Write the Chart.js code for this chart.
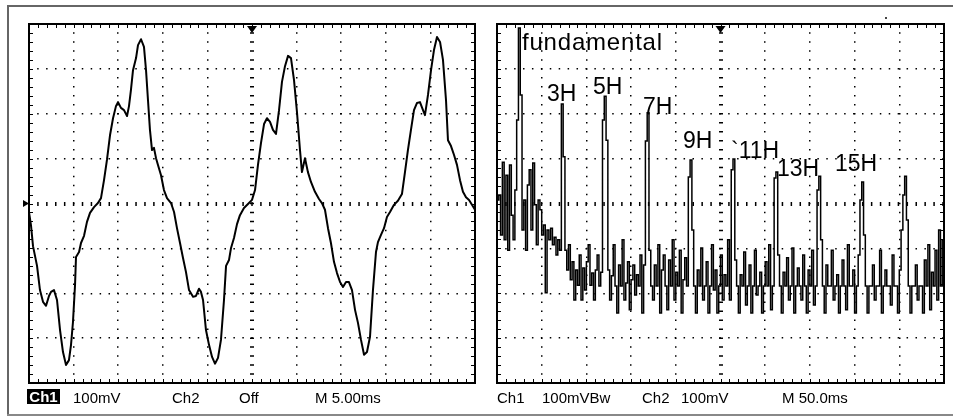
<!DOCTYPE html>
<html>
<head>
<meta charset="utf-8">
<script src="https://cdn.jsdelivr.net/npm/chart.js@4/dist/chart.umd.min.js"></script>
<style>
  html, body { margin: 0; padding: 0; background: #fff; }
  #wrap { position: relative; width: 953px; height: 417px; overflow: hidden; background: #fff; }
  canvas { position: absolute; top: 0; }
  #cl { left: 0; }
  #cr { left: 486px; }
  .ln { position: absolute; background: #666; }
  .t { position: absolute; font-family: "Liberation Sans", Arial, sans-serif; color: #000; white-space: nowrap; line-height: 1; }
  .st { font-size: 15px; top: 390px; }
  .an { font-size: 23px; }
  #ch1box { position: absolute; left: 27px; top: 389px; width: 33px; height: 15px; background: #000; color: #fff; font-family: "Liberation Sans", Arial, sans-serif; font-size: 15px; line-height: 15px; text-align: center; font-weight: bold; }
</style>
</head>
<body>
<div id="wrap">
  <canvas id="cl" width="486" height="417"></canvas>
  <canvas id="cr" width="467" height="417"></canvas>
  <div class="ln" style="left:7px;top:5px;width:946px;height:2px;"></div>
  <div class="ln" style="left:7px;top:5px;width:2px;height:411px;"></div>
  <div class="ln" style="left:7px;top:414px;width:946px;height:2px;background:#888;"></div>
  <div class="ln" style="left:885px;top:17px;width:2px;height:2px;background:#444;"></div>

  <div id="ch1box">Ch1</div>
  <div class="t st" style="left:73px;">100mV</div>
  <div class="t st" style="left:172px;">Ch2</div>
  <div class="t st" style="left:239px;">Off</div>
  <div class="t st" style="left:315px;">M 5.00ms</div>

  <div class="t st" style="left:497px;">Ch1</div>
  <div class="t st" style="left:542px;">100mVBw</div>
  <div class="t st" style="left:642px;">Ch2</div>
  <div class="t st" style="left:681px;">100mV</div>
  <div class="t st" style="left:782px;">M 50.0ms</div>

  <div class="t an" style="left:522px;top:30px;font-size:24px;letter-spacing:0.8px;">fundamental</div>
  <div class="t an" style="left:547px;top:82px;">3H</div>
  <div class="t an" style="left:593px;top:75px;">5H</div>
  <div class="t an" style="left:643px;top:95px;">7H</div>
  <div class="t an" style="left:683px;top:129px;">9H</div>
  <div class="t an" style="left:731px;top:139px;">`11H</div>
  <div class="t an" style="left:777px;top:157px;">13H</div>
  <div class="t an" style="left:835px;top:152px;">15H</div>
</div>
<script>
// ---------- Left panel: time-domain waveform (Ch1, 100 mV/div, 5 ms/div) ----------
const waveTimeMs = [0,0.22,0.45,0.90,1.23,1.57,1.91,2.24,2.47,2.80,
  3.14,3.48,3.81,4.15,4.48,4.71,4.93,5.16,5.27,5.61,
  5.83,6.17,6.50,6.84,7.29,7.73,8.07,8.41,8.74,9.08,
  9.42,9.75,9.98,10.31,10.65,10.99,11.21,11.43,11.66,12.00,
  12.22,12.56,12.89,13.12,13.34,13.56,13.79,14.01,14.24,14.46,
  14.80,15.13,15.47,15.92,16.26,16.59,16.93,17.26,17.60,17.94,
  18.39,18.72,19.06,19.28,19.51,19.84,20.18,20.52,20.85,21.19,
  21.52,21.86,22.09,22.42,22.65,22.98,23.32,23.65,24.10,24.55,
  25.00,25.34,25.67,26.01,26.35,26.68,27.02,27.35,27.69,28.03,
  28.36,28.70,29.04,29.37,29.71,30.04,30.38,30.60,30.94,31.27,
  31.61,32.06,32.51,32.84,33.18,33.52,33.85,34.19,34.53,34.87,
  35.20,35.54,35.87,36.21,36.55,36.88,37.22,37.56,37.89,38.23,
  38.56,38.90,39.12,39.46,39.80,40.13,40.47,40.92,41.36,41.81,
  42.15,42.48,42.82,43.16,43.50,43.83,44.17,44.39,44.73,45.07,
  45.40,45.74,46.08,46.41,46.75,46.97,47.31,47.65,47.98,48.32,
  48.65,48.99,49.33,49.66,50.0];
const waveMv = [-19,-48,-95,-139,-193,-219,-228,-206,-197,-193,
  -215,-282,-331,-360,-349,-315,-264,-182,-119,-108,
  -88,-72,-41,-21,-8,1,12,52,97,152,
  190,217,226,213,208,195,217,253,297,324,
  353,366,349,297,230,164,119,124,101,86,
  63,30,12,1,-19,-55,-88,-121,-153,-193,
  -208,-206,-190,-197,-215,-282,-315,-342,-357,-344,
  -304,-215,-139,-126,-99,-77,-46,-26,-10,-1,
  8,30,86,135,177,190,182,164,155,208,
  271,306,329,324,275,204,119,70,101,70,
  48,26,10,1,-14,-55,-88,-130,-155,-175,
  -186,-175,-175,-193,-237,-266,-304,-337,-331,-297,
  -193,-108,-86,-70,-55,-30,-19,-3,6,21,
  70,119,164,208,224,226,208,197,242,297,
  342,371,360,320,230,141,128,108,86,52,
  26,14,8,-3,-14];

// ---------- Right panel: FFT magnitude (dB, 10 dB/div), 5 Hz bins, 0..1250 Hz ----------
const specBinHz = 5;
const specDb = [0.8,1.9,-7.0,9.2,-8.1,6.3,-10.4,8.6,-2.6,-8.1,
  3.0,18.6,39.1,24.2,-5.9,0.8,-10.4,4.1,7.5,-5.9,
  9.0,-0.3,-9.2,0.8,-1.4,-7.0,-4.8,-19.9,-5.9,-8.1,
  -5.5,-9.2,-7.5,-11.5,-8.1,-10.4,22.2,10.4,-10.4,-14.8,
  -9.2,-17.0,-13.0,-21.5,-14.8,-18.2,-11.5,-21.5,-14.4,-19.3,
  -13.0,-9.2,-18.2,-15.5,-21.5,-14.8,-11.5,-18.4,-15.3,18.6,
  23.9,14.1,-14.8,-21.5,-16.1,-9.2,-18.4,-24.4,-13.7,-18.4,
  -8.1,-21.5,-17.7,-13.0,-23.7,-17.0,-13.7,-20.4,-15.9,-18.4,
  -11.5,-24.4,-13.7,13.9,20.2,-10.4,-18.4,-21.5,-13.7,-18.4,
  -9.2,-24.4,-14.8,-11.5,-18.4,-23.7,-12.6,-18.4,-8.1,-21.5,
  -15.3,-18.4,-10.4,-24.4,-17.0,-12.1,-18.4,5.9,9.7,-5.9,
  -18.4,-24.4,-14.8,-18.4,-9.9,-21.5,-18.4,-13.0,-24.4,-18.4,
  -9.2,-19.3,-14.8,-24.4,-18.4,-11.5,-21.5,-15.9,-18.4,-8.1,
  -21.5,7.5,9.9,-12.6,-18.4,-24.4,-15.9,-18.4,-10.8,-22.6,
  -18.4,-13.7,-24.4,-18.4,-10.4,-20.4,-18.4,-15.3,-24.4,-18.4,
  -13.0,-18.4,-9.2,-23.7,-18.4,5.7,7.0,-11.5,-18.4,-24.4,
  -15.3,-18.4,-12.1,-21.5,-18.4,-9.9,-24.4,-18.4,-14.4,-18.4,
  -21.5,-11.5,-18.4,-24.4,-14.8,-18.4,-10.4,-22.6,-18.4,3.0,
  6.1,-8.1,-18.4,-24.4,-13.7,-18.4,-18.4,-10.4,-21.5,-18.4,
  -15.9,-24.4,-18.4,-12.6,-18.4,-23.7,-9.2,-18.4,-18.4,-14.8,
  -24.4,-18.4,-11.5,0.8,4.8,-7.0,-18.4,-24.4,-18.4,-18.4,
  -13.7,-21.5,-18.4,-18.4,-10.4,-24.4,-18.4,-14.8,-18.4,-18.4,
  -22.6,-11.5,-18.4,-18.4,-24.4,-14.8,-5.9,1.9,6.1,-3.7,
  -18.4,-24.4,-18.4,-18.4,-13.7,-21.5,-18.4,-18.4,-24.4,-12.6,
  -18.4,-9.2,-23.7,-15.3,-18.4,-10.4,-21.5,-5.9,-18.4,-8.1,
  -11.5];
const specFreqHz = specDb.map((_, i) => i * specBinHz);

// ---------- Oscilloscope frame plugin (border, minor ticks, trigger markers) ----------
const scopeFrame = {
  id: 'scopeFrame',
  afterDatasetsDraw(chart, args, opts) {
    const { ctx, chartArea: a } = chart;
    const xs = chart.scales.x, ys = chart.scales.y;
    ctx.save();
    ctx.strokeStyle = '#000';
    ctx.lineWidth = 2;
    ctx.strokeRect(a.left, a.top, a.right - a.left, a.bottom - a.top);
    ctx.lineWidth = 1;
    ctx.beginPath();
    const xStep = (xs.max - xs.min) / 50;
    for (let i = 1; i < 50; i++) {
      const px = Math.round(xs.getPixelForValue(xs.min + i * xStep)) + 0.5;
      ctx.moveTo(px, a.top); ctx.lineTo(px, a.top + 4);
      ctx.moveTo(px, a.bottom); ctx.lineTo(px, a.bottom - 4);
    }
    const yStep = (ys.max - ys.min) / 40;
    for (let i = 1; i < 40; i++) {
      const py = Math.round(ys.getPixelForValue(ys.min + i * yStep)) + 0.5;
      ctx.moveTo(a.left, py); ctx.lineTo(a.left + 4, py);
      ctx.moveTo(a.right, py); ctx.lineTo(a.right - 4, py);
    }
    ctx.stroke();
    // trigger position marker (top centre)
    const cx = xs.getPixelForValue((xs.min + xs.max) / 2);
    ctx.fillStyle = '#000';
    ctx.beginPath();
    ctx.moveTo(cx - 5, a.top + 2); ctx.lineTo(cx + 5, a.top + 2); ctx.lineTo(cx, a.top + 9);
    ctx.closePath(); ctx.fill();
    if (opts && opts.groundMarker) {
      const cy = ys.getPixelForValue(0);
      ctx.beginPath();
      ctx.moveTo(a.left - 6, cy - 3.5); ctx.lineTo(a.left - 6, cy + 3.5); ctx.lineTo(a.left, cy);
      ctx.closePath(); ctx.fill();
    }
    ctx.restore();
  }
};

function scopeAxes(xmin, xmax, xstep, ymin, ymax, ystep) {
  const xmid = (xmin + xmax) / 2, ymid = (ymin + ymax) / 2;
  const edge = (v, lo, hi) => Math.abs(v - lo) < 1e-9 || Math.abs(v - hi) < 1e-9;
  return {
    x: {
      type: 'linear', min: xmin, max: xmax,
      ticks: { display: false, stepSize: xstep },
      grid: {
        drawTicks: false,
        color: c => edge(c.tick.value, xmin, xmax) ? 'rgba(0,0,0,0)' : '#000',
        lineWidth: c => Math.abs(c.tick.value - xmid) < 1e-9 ? 4 : 1.5
      },
      border: { display: false, dash: [1.5, 7.475], dashOffset: 0.75 }
    },
    y: {
      type: 'linear', min: ymin, max: ymax,
      ticks: { display: false, stepSize: ystep },
      grid: {
        drawTicks: false,
        color: c => edge(c.tick.value, ymin, ymax) ? 'rgba(0,0,0,0)' : '#000',
        lineWidth: c => Math.abs(c.tick.value - ymid) < 1e-9 ? 4 : 1.5
      },
      border: { display: false, dash: [1.5, 7.42], dashOffset: 0.75 }
    }
  };
}

const common = {
  responsive: false, animation: false, devicePixelRatio: 1,
  events: [],
  elements: { point: { radius: 0 } },
};

new Chart(document.getElementById('cl'), {
  type: 'line',
  data: {
    datasets: [{
      data: waveTimeMs.map((t, i) => ({ x: t, y: waveMv[i] })),
      borderColor: '#000', borderWidth: 2, tension: 0, fill: false,
      borderJoinStyle: 'round'
    }]
  },
  options: Object.assign({}, common, {
    layout: { padding: { left: 29, top: 24, right: 11, bottom: 34 } },
    scales: scopeAxes(0, 50, 5, -400, 400, 100),
    plugins: { legend: { display: false }, tooltip: { enabled: false }, scopeFrame: { groundMarker: true } }
  }),
  plugins: [scopeFrame]
});

new Chart(document.getElementById('cr'), {
  type: 'line',
  data: {
    datasets: [{
      data: specFreqHz.map((f, i) => ({ x: f, y: specDb[i] })),
      borderColor: '#000', borderWidth: 1.5, stepped: true, fill: false
    }]
  },
  options: Object.assign({}, common, {
    layout: { padding: { left: 11, top: 24, right: 9, bottom: 34 } },
    scales: scopeAxes(0, 1250, 125, -40, 40, 10),
    plugins: { legend: { display: false }, tooltip: { enabled: false }, scopeFrame: { groundMarker: false } }
  }),
  plugins: [scopeFrame]
});
</script>
</body>
</html>
